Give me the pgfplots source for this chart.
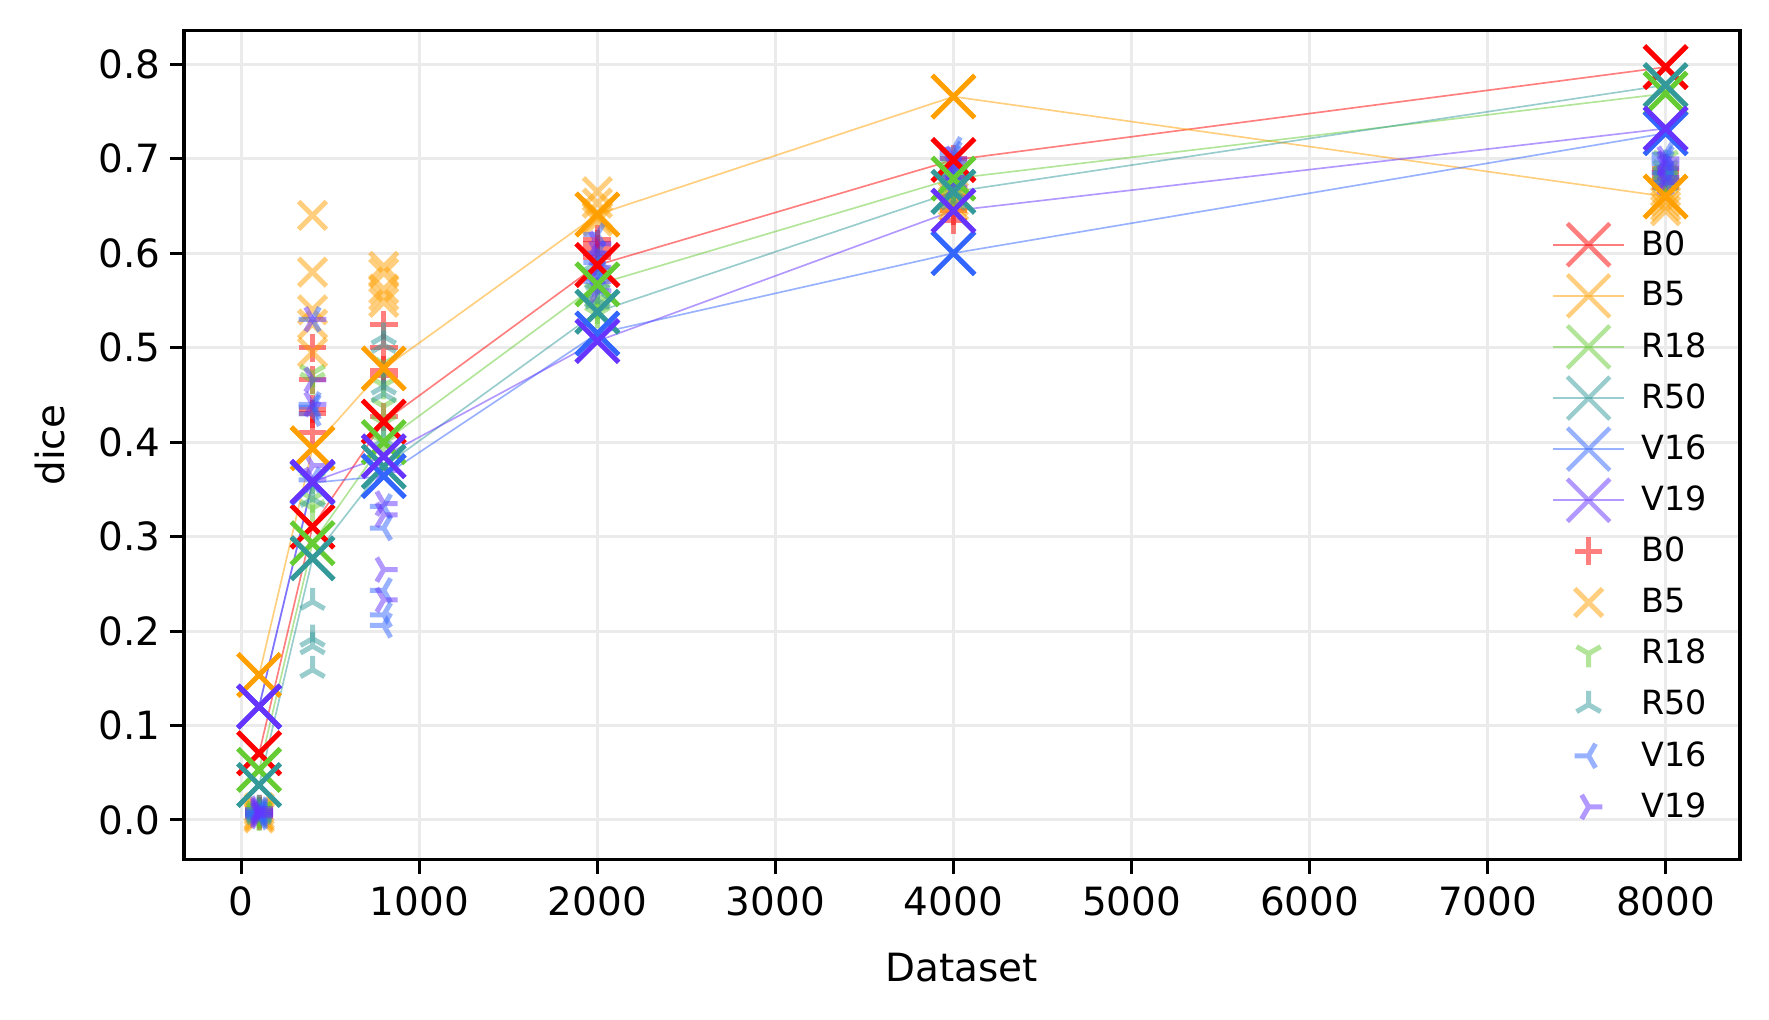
\documentclass[border=0pt]{standalone}
\usepackage{pgfplots}
\pgfplotsset{compat=1.18}
\usepackage{fontspec}
\setmainfont{DejaVu Sans}
\usetikzlibrary{calc}

\definecolor{cB0}{HTML}{FF0000}
\definecolor{cB5}{HTML}{FFA000}
\definecolor{cR18}{HTML}{66CC33}
\definecolor{cR50}{HTML}{339999}
\definecolor{cV16}{HTML}{3366FF}
\definecolor{cV19}{HTML}{6633FF}

\pgfdeclareplotmark{tridown}{%
  \pgfpathmoveto{\pgfpointorigin}\pgfpathlineto{\pgfpoint{0pt}{-\pgfplotmarksize}}%
  \pgfpathmoveto{\pgfpointorigin}\pgfpathlineto{\pgfpointpolar{150}{\pgfplotmarksize}}%
  \pgfpathmoveto{\pgfpointorigin}\pgfpathlineto{\pgfpointpolar{30}{\pgfplotmarksize}}%
  \pgfusepathqstroke}
\pgfdeclareplotmark{triup}{%
  \pgfpathmoveto{\pgfpointorigin}\pgfpathlineto{\pgfpoint{0pt}{\pgfplotmarksize}}%
  \pgfpathmoveto{\pgfpointorigin}\pgfpathlineto{\pgfpointpolar{210}{\pgfplotmarksize}}%
  \pgfpathmoveto{\pgfpointorigin}\pgfpathlineto{\pgfpointpolar{330}{\pgfplotmarksize}}%
  \pgfusepathqstroke}
\pgfdeclareplotmark{trileft}{%
  \pgfpathmoveto{\pgfpointorigin}\pgfpathlineto{\pgfpoint{-\pgfplotmarksize}{0pt}}%
  \pgfpathmoveto{\pgfpointorigin}\pgfpathlineto{\pgfpointpolar{60}{\pgfplotmarksize}}%
  \pgfpathmoveto{\pgfpointorigin}\pgfpathlineto{\pgfpointpolar{300}{\pgfplotmarksize}}%
  \pgfusepathqstroke}
\pgfdeclareplotmark{triright}{%
  \pgfpathmoveto{\pgfpointorigin}\pgfpathlineto{\pgfpoint{\pgfplotmarksize}{0pt}}%
  \pgfpathmoveto{\pgfpointorigin}\pgfpathlineto{\pgfpointpolar{120}{\pgfplotmarksize}}%
  \pgfpathmoveto{\pgfpointorigin}\pgfpathlineto{\pgfpointpolar{240}{\pgfplotmarksize}}%
  \pgfusepathqstroke}

\pgfplotsset{
  meanline/.style={color=#1, opacity=0.5, line width=0.6pt, mark=x, mark size=10.8pt,
    mark options={line width=1.6pt, solid},
    legend image code/.code={%
      \path[draw=none,fill=none] (0pt,-9.2pt) rectangle (31.7pt,9.2pt);
      \draw[mark repeat=2,mark phase=2] plot coordinates {(0pt,0pt)(12.75pt,0pt)(25.5pt,0pt)};}},
  meanmark/.style={forget plot, only marks, color=#1, mark=x, mark size=10.8pt,
    mark options={line width=1.8pt, solid}},
  scat/.style 2 args={only marks, color=#1, opacity=0.5, mark=#2, mark size=5pt,
    mark options={line width=1.8pt, solid},
    legend image code/.code={%
      \path[draw=none,fill=none] (0pt,-9.2pt) rectangle (31.7pt,9.2pt);
      \draw plot coordinates {(12.75pt,0pt)};}},
}

\begin{document}
\begin{tikzpicture}
\begin{axis}[
  scale only axis, width=560.2pt, height=298.6pt,
  xmin=-322, xmax=8418, ymin=-0.0423, ymax=0.8358,
  xtick={0,1000,2000,3000,4000,5000,6000,7000,8000},
  ytick={0,0.1,0.2,0.3,0.4,0.5,0.6,0.7,0.8},
  /pgf/number format/assume math mode=true,
  x tick label style={/pgf/number format/1000 sep={}, yshift=-1pt},
  y tick label style={/pgf/number format/.cd, fixed, fixed zerofill, precision=1},
  tick label style={font=\fontsize{14}{16}\selectfont},
  label style={font=\fontsize{14}{16}\selectfont},
  xlabel={Dataset}, ylabel={dice},
  xlabel style={yshift=-6.5pt}, ylabel style={yshift=5pt},
  grid=major, major grid style={line width=1.1pt, color=black!8},
  axis line style={line width=1.1pt},
  tick style={line width=1.1pt, black},
  major tick length=5pt, tick align=outside,
  xtick pos=bottom, ytick pos=left,
  legend style={at={(0.8794,0.7725)}, anchor=north west, draw=none, fill=none,
    inner sep=0pt, outer sep=0pt, nodes={inner sep=0pt},
    font=\fontsize{12}{13}\selectfont, row sep=0pt},
  legend cell align=left,
]
% mean lines
\addplot[meanline=cB0] coordinates {(100,0.0706)(400,0.3105)(800,0.4217)(2000,0.5875)(4000,0.6987)(8000,0.797)};
\addlegendentry{B0}
\addplot[meanline=cB5] coordinates {(100,0.1535)(400,0.3935)(800,0.478)(2000,0.641)(4000,0.7658)(8000,0.660)};
\addlegendentry{B5}
\addplot[meanline=cR18] coordinates {(100,0.053)(400,0.293)(800,0.400)(2000,0.567)(4000,0.679)(8000,0.769)};
\addlegendentry{R18}
\addplot[meanline=cR50] coordinates {(100,0.037)(400,0.277)(800,0.374)(2000,0.538)(4000,0.665)(8000,0.778)};
\addlegendentry{R50}
\addplot[meanline=cV16] coordinates {(100,0.120)(400,0.357)(800,0.364)(2000,0.515)(4000,0.600)(8000,0.727)};
\addlegendentry{V16}
\addplot[meanline=cV19] coordinates {(100,0.120)(400,0.358)(800,0.385)(2000,0.507)(4000,0.645)(8000,0.732)};
\addlegendentry{V19}
% scatter
\addplot[scat={cB0}{+}] coordinates {
 (100,0.004)(100,0.008)(100,0.012)(100,0.006)(100,0.010)
 (400,0.500)(400,0.466)(400,0.435)(400,0.430)(400,0.410)
 (800,0.524)(800,0.476)(800,0.470)(800,0.427)(800,0.500)
 (2000,0.615)(2000,0.605)(2000,0.600)(2000,0.595)(2000,0.610)
 (4000,0.700)(4000,0.680)(4000,0.660)(4000,0.645)(4000,0.635)
 (8000,0.690)(8000,0.680)(8000,0.670)(8000,0.675)(8000,0.685)};
\addlegendentry{B0}
\addplot[scat={cB5}{x}, mark size=7.07pt] coordinates {
 (100,0.002)(100,0.006)(100,0.010)(100,0.004)(100,0.013)
 (400,0.640)(400,0.580)(400,0.540)(400,0.525)(400,0.495)
 (800,0.586)(800,0.579)(800,0.555)(800,0.548)(800,0.562)
 (2000,0.665)(2000,0.653)(2000,0.642)(2000,0.634)(2000,0.638)
 (4000,0.665)(4000,0.655)(4000,0.650)(4000,0.645)(4000,0.660)
 (8000,0.665)(8000,0.655)(8000,0.645)(8000,0.650)(8000,0.660)};
\addlegendentry{B5}
\addplot[scat={cR18}{tridown}] coordinates {
 (100,0.003)(100,0.007)(100,0.011)(100,0.005)(100,0.009)
 (400,0.473)(400,0.360)(400,0.340)(400,0.330)(400,0.465)
 (800,0.483)(800,0.438)(800,0.460)(800,0.420)(800,0.400)
 (2000,0.560)(2000,0.550)(2000,0.540)(2000,0.535)(2000,0.545)
 (4000,0.690)(4000,0.680)(4000,0.670)(4000,0.660)(4000,0.675)
 (8000,0.700)(8000,0.690)(8000,0.680)(8000,0.685)(8000,0.675)};
\addlegendentry{R18}
\addplot[scat={cR50}{triup}] coordinates {
 (100,0.004)(100,0.008)(100,0.012)(100,0.006)(100,0.010)
 (400,0.231)(400,0.192)(400,0.184)(400,0.159)(400,0.340)
 (800,0.512)(800,0.503)(800,0.459)(800,0.451)(800,0.402)
 (2000,0.590)(2000,0.580)(2000,0.570)(2000,0.560)(2000,0.550)
 (4000,0.690)(4000,0.675)(4000,0.665)(4000,0.655)(4000,0.680)
 (8000,0.695)(8000,0.685)(8000,0.675)(8000,0.690)(8000,0.680)};
\addlegendentry{R50}
\addplot[scat={cV16}{trileft}] coordinates {
 (100,0.003)(100,0.007)(100,0.011)(100,0.005)(100,0.009)
 (400,0.530)(400,0.437)(400,0.430)(400,0.440)(400,0.360)
 (800,0.332)(800,0.309)(800,0.243)(800,0.217)(800,0.206)
 (2000,0.620)(2000,0.600)(2000,0.590)(2000,0.580)(2000,0.570)
 (4000,0.710)(4000,0.700)(4000,0.690)(4000,0.680)(4000,0.705)
 (8000,0.700)(8000,0.695)(8000,0.685)(8000,0.675)(8000,0.705)};
\addlegendentry{V16}
\addplot[scat={cV19}{triright}] coordinates {
 (100,0.004)(100,0.008)(100,0.012)(100,0.006)(100,0.010)
 (400,0.530)(400,0.466)(400,0.440)(400,0.375)(400,0.360)
 (800,0.335)(800,0.323)(800,0.265)(800,0.233)(800,0.370)
 (2000,0.610)(2000,0.600)(2000,0.585)(2000,0.570)(2000,0.560)
 (4000,0.700)(4000,0.690)(4000,0.680)(4000,0.670)(4000,0.695)
 (8000,0.700)(8000,0.690)(8000,0.680)(8000,0.675)(8000,0.695)};
\addlegendentry{V19}
% solid mean markers
\addplot[meanmark=cB0] coordinates {(100,0.0706)(400,0.3105)(800,0.4217)(2000,0.5875)(4000,0.6987)(8000,0.797)};
\addplot[meanmark=cB5] coordinates {(100,0.1535)(400,0.3935)(800,0.478)(2000,0.641)(4000,0.7658)(8000,0.660)};
\addplot[meanmark=cR18] coordinates {(100,0.053)(400,0.293)(800,0.400)(2000,0.567)(4000,0.679)(8000,0.769)};
\addplot[meanmark=cR50] coordinates {(100,0.037)(400,0.277)(800,0.374)(2000,0.538)(4000,0.665)(8000,0.778)};
\addplot[meanmark=cV16] coordinates {(100,0.120)(400,0.357)(800,0.364)(2000,0.515)(4000,0.600)(8000,0.727)};
\addplot[meanmark=cV19] coordinates {(100,0.120)(400,0.358)(800,0.385)(2000,0.507)(4000,0.645)(8000,0.732)};
\end{axis}
\pgfresetboundingbox
\path ($(current axis.south west)+(-66.24pt,-57.6pt)$) rectangle ($(current axis.north east)+(10.44pt,10.98pt)$);
\end{tikzpicture}
\end{document}
